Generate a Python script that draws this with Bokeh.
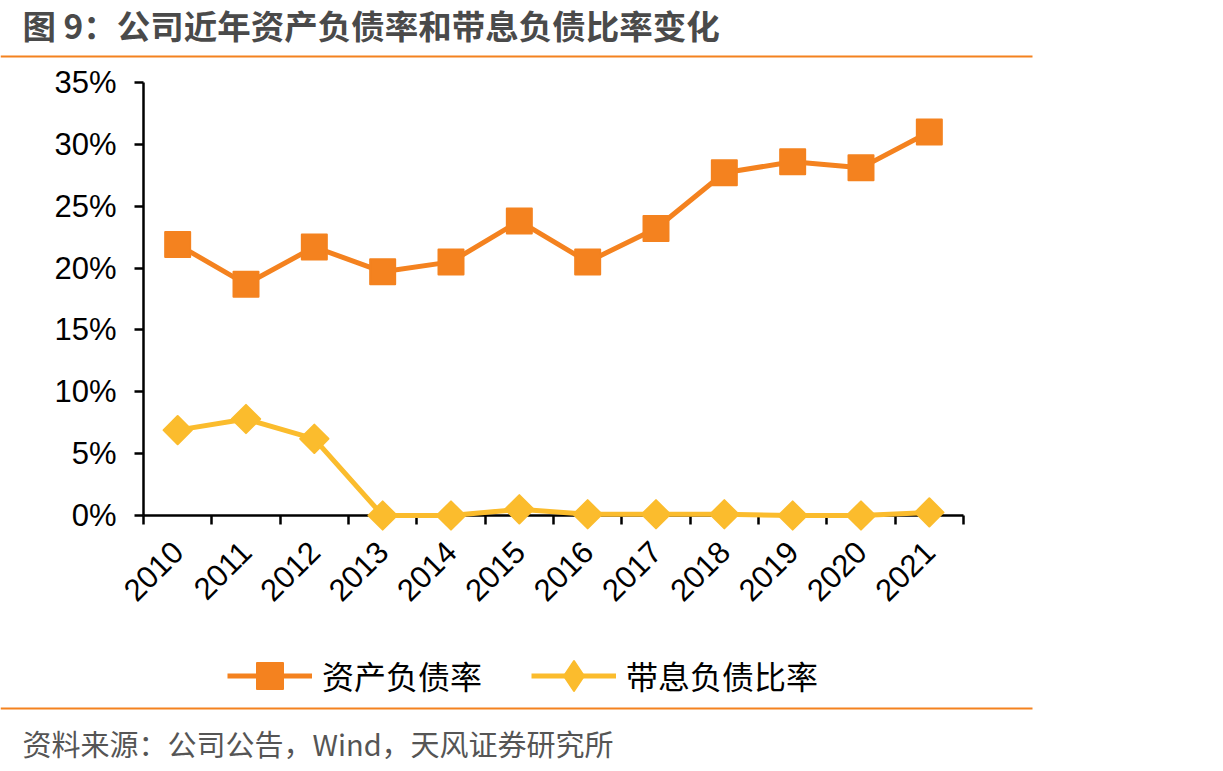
from bokeh.plotting import figure
from bokeh.models import (FixedTicker, PrintfTickFormatter, Label, BoxAnnotation,
                          Legend, LegendItem, ColumnDataSource, Range1d)
from bokeh.embed import file_html
from bokeh.resources import INLINE
import math

years = ["2010", "2011", "2012", "2013", "2014", "2015", "2016", "2017", "2018", "2019", "2020", "2021"]
debt_ratio = [21.9, 18.7, 21.7, 19.7, 20.5, 23.8, 20.5, 23.2, 27.7, 28.6, 28.1, 31.0]
interest_debt_ratio = [6.9, 7.8, 6.2, 0.0, 0.0, 0.5, 0.1, 0.1, 0.1, 0.0, 0.0, 0.25]
series_names = ["资产负债率", "带息负债比率"]
y_ticks = [0, 5, 10, 15, 20, 25, 30, 35]
title_text = "图 9：公司近年资产负债率和带息负债比率变化"
source_text = "资料来源：公司公告，Wind，天风证券研究所"

ORANGE = "#F4821F"
YELLOW = "#FBBC2D"

n = len(years)
x_pos = [i + 0.5 for i in range(n)]
src = ColumnDataSource(dict(x=x_pos, a=debt_ratio, b=interest_debt_ratio))

W, H = 1223, 771
FL, FR, FT, FB = 143, 963, 82, 515   # pixel box of the axes
YMAX = 35
xs = n / (FR - FL)          # data units per px (x)
ys = YMAX / (FB - FT)       # data units per px (y)

p = figure(width=W, height=H, output_backend="svg", toolbar_location=None,
           x_range=Range1d(-FL * xs, n + (W - FR) * xs),
           y_range=Range1d(-(H - FB) * ys, YMAX + FT * ys),
           min_border=0)
p.outline_line_color = None
p.xgrid.visible = False
p.ygrid.visible = False
p.background_fill_color = "white"
p.border_fill_color = "white"

# lines and markers
la = p.line("x", "a", source=src, line_color=ORANGE, line_width=5)
ma = p.scatter("x", "a", source=src, marker="square", size=25, fill_color=ORANGE,
               line_color=ORANGE, line_width=2, line_join="round")
lb = p.line("x", "b", source=src, line_color=YELLOW, line_width=5)
mb = p.scatter("x", "b", source=src, marker="square", angle=math.pi / 4, size=20,
               fill_color=YELLOW, line_color=YELLOW, line_width=2, line_join="round")
# legend-only sample for the diamond (legend ignores marker angle); hidden in the plot
mb_leg = p.scatter("x", "b", source=src, marker="diamond", size=30, fill_color=YELLOW,
                   line_color=YELLOW, line_width=2, line_join="round", visible=False)

# axes
xa = p.xaxis[0]
xa.fixed_location = 0
xa.bounds = (0, n)
xa.level = "underlay"
xa.ticker = FixedTicker(ticks=x_pos, minor_ticks=list(range(n + 1)))
xa.major_label_overrides = {x: y for x, y in zip(x_pos, years)}
xa.major_tick_out = 0
xa.major_tick_in = 0
xa.minor_tick_out = 9
xa.minor_tick_in = 0
xa.minor_tick_line_color = "black"
xa.minor_tick_line_width = 2.5
xa.axis_line_color = "black"
xa.axis_line_width = 2.5
xa.major_label_orientation = math.pi / 4
xa.major_label_text_font = "Liberation Sans"
xa.major_label_text_font_size = "31px"
xa.major_label_text_color = "black"
xa.major_label_standoff = 22

ya = p.yaxis[0]
ya.fixed_location = 0
ya.bounds = (0, YMAX)
ya.level = "underlay"
ya.ticker = FixedTicker(ticks=y_ticks)
ya.formatter = PrintfTickFormatter(format="%d%%")
ya.major_tick_out = 9
ya.major_tick_in = 0
ya.major_tick_line_width = 2.5
ya.major_tick_line_color = "black"
ya.minor_tick_line_color = None
ya.axis_line_color = "black"
ya.axis_line_width = 2.5
ya.major_label_text_font = "Liberation Sans"
ya.major_label_text_font_size = "31px"
ya.major_label_text_color = "black"
ya.major_label_standoff = 18

# screen helpers: frame == canvas, origin bottom-left
def sy(y):
    return H - y

p.add_layout(Label(x=22, y=sy(24), x_units="screen", y_units="screen", text=title_text,
                   text_font="Noto Sans CJK SC", text_font_style="bold", text_font_size="33.5px",
                   text_color="#4A4A4A", text_baseline="middle", text_align="left"))
for yline in (56, 708):
    p.add_layout(BoxAnnotation(left=0, right=1032, top=sy(yline - 1.1), bottom=sy(yline + 1.1),
                               left_units="screen", right_units="screen", top_units="screen",
                               bottom_units="screen", fill_color=ORANGE, fill_alpha=1,
                               line_color=None, level="annotation"))
p.add_layout(Label(x=22, y=sy(742), x_units="screen", y_units="screen", text=source_text,
                   text_font="Noto Sans CJK SC", text_font_size="29px",
                   text_color="#555555", text_baseline="middle", text_align="left"))

# legends
def make_legend(item, gx, gh, cy):
    lg = Legend(items=[item], location=(gx, sy(cy + gh / 2)), orientation="horizontal",
                glyph_width=85, glyph_height=gh, label_standoff=10, padding=0, margin=0,
                border_line_color=None, background_fill_alpha=0,
                label_text_font="Noto Sans CJK SC", label_text_font_size="32px",
                label_text_color="black", label_height=gh)
    p.add_layout(lg)

make_legend(LegendItem(label=series_names[0], renderers=[la, ma]), 227, 65, 675)
make_legend(LegendItem(label=series_names[1], renderers=[lb, mb_leg]), 531, 75, 675)

open("out.html", "w").write(file_html(p, INLINE))
